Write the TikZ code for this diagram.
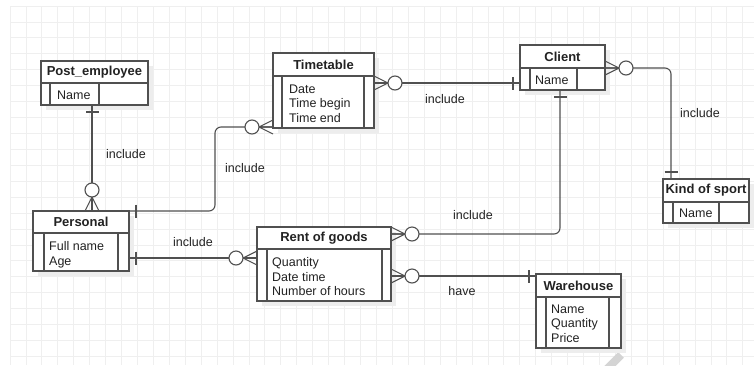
\documentclass[tikz,border=0pt]{standalone}
\usepackage{fontspec}
\setmainfont{Liberation Sans}
\usetikzlibrary{shadows}

\definecolor{lncol}{HTML}{505050}
\definecolor{txtcol}{HTML}{222222}
\definecolor{gridcol}{HTML}{EFEFEF}

\begin{document}
\begin{tikzpicture}[
    x=1pt, y=-1pt,
    every node/.style={font=\fontsize{12.5}{14.5}\selectfont, text=txtcol},
    ln/.style={draw=lncol, line width=1.1pt},
    hd/.style={ln, fill=white, anchor=north west, inner sep=0pt, outer sep=0pt,
               font=\fontsize{13}{15}\selectfont\bfseries,
               drop shadow={shadow xshift=5pt, shadow yshift=-5pt, fill=black!7, opacity=1}},
    bd/.style={hd},
    att/.style={anchor=north west, inner sep=0pt, align=left},
    lbl/.style={inner sep=1pt},
    onemark/.pic={\draw[ln] (7,-6.5) -- (7,6.5);},
    zeromany/.pic={\draw[ln] (0,7) -- (14,0) -- (0,-7) (0,0) -- (14,0);
                   \draw[ln, fill=white] (21,0) circle[radius=7pt];},
  ]
  \fill[white] (0,0) rectangle (754,365);
  \useasboundingbox (0,0) rectangle (754,365);
  \begin{scope}[shift={(10,6)}]
    \draw[gridcol, line width=0.8pt, step=15.93pt] (0,0) grid (744,359);
  \end{scope}
  \draw[black!17, line width=8pt] (621,355) -- (597,379);

  % entities
  \node[hd, minimum width=107, minimum height=22] (peh) at (41,61) {Post\_employee};
  \node[bd, minimum width=107, minimum height=22] (pe) at (peh.south west) {};
  \draw[ln] ([xshift=9pt]pe.north west) -- ([xshift=9pt]pe.south west)
            ([xshift=-49pt]pe.north east) -- ([xshift=-49pt]pe.south east);
  \node[att] (pe-a) at ([xshift=16pt, yshift=-8pt]pe.north west) {Name};

  \node[hd, minimum width=96, minimum height=22] (psh) at (33,211) {Personal};
  \node[bd, minimum width=96, minimum height=38] (ps) at (psh.south west) {};
  \draw[ln] ([xshift=11pt]ps.north west) -- ([xshift=11pt]ps.south west)
            ([xshift=-11pt]ps.north east) -- ([xshift=-11pt]ps.south east);
  \node[att] (ps-a) at ([xshift=16pt, yshift=-8.5pt]ps.north west) {Full name\\Age};

  \node[hd, minimum width=101, minimum height=23] (tth) at (273,53) {Timetable};
  \node[bd, minimum width=101, minimum height=52] (tt) at (tth.south west) {};
  \draw[ln] ([xshift=9pt]tt.north west) -- ([xshift=9pt]tt.south west)
            ([xshift=-10pt]tt.north east) -- ([xshift=-10pt]tt.south east);
  \node[att] (tt-a) at ([xshift=16pt, yshift=-8.5pt]tt.north west) {Date\\Time begin\\Time end};

  \node[hd, minimum width=85, minimum height=23] (clh) at (520,45) {Client};
  \node[bd, minimum width=85, minimum height=22] (cl) at (clh.south west) {};
  \draw[ln] ([xshift=10pt]cl.north west) -- ([xshift=10pt]cl.south west)
            ([xshift=-28pt]cl.north east) -- ([xshift=-28pt]cl.south east);
  \node[att] (cl-a) at ([xshift=15pt, yshift=-8pt]cl.north west) {Name};

  \node[hd, minimum width=134, minimum height=22] (rgh) at (257,227) {Rent of goods};
  \node[bd, minimum width=134, minimum height=52] (rg) at (rgh.south west) {};
  \draw[ln] ([xshift=10pt]rg.north west) -- ([xshift=10pt]rg.south west)
            ([xshift=-9pt]rg.north east) -- ([xshift=-9pt]rg.south east);
  \node[att] (rg-a) at ([xshift=15pt, yshift=-8.5pt]rg.north west) {Quantity\\Date time\\Number of hours};

  \node[hd, minimum width=85, minimum height=23] (whh) at (536,274) {Warehouse};
  \node[bd, minimum width=85, minimum height=51] (wh) at (whh.south west) {};
  \draw[ln] ([xshift=10pt]wh.north west) -- ([xshift=10pt]wh.south west)
            ([xshift=-12pt]wh.north east) -- ([xshift=-12pt]wh.south east);
  \node[att] (wh-a) at ([xshift=15pt, yshift=-7.5pt]wh.north west) {Name\\Quantity\\Price};

  \node[hd, minimum width=86, minimum height=23] (ksh) at (663,179) {Kind of sport};
  \node[bd, minimum width=86, minimum height=21] (ks) at (ksh.south west) {};
  \draw[ln] ([xshift=10pt]ks.north west) -- ([xshift=10pt]ks.south west)
            ([xshift=-30pt]ks.north east) -- ([xshift=-30pt]ks.south east);
  \node[att] (ks-a) at ([xshift=16pt, yshift=-7pt]ks.north west) {Name};

  % relations
  \draw[ln] ([xshift=-2.5pt]pe.south) -- ([xshift=11pt]psh.north);
  \draw[ln, rounded corners=6pt] (psh.north east) -| ([xshift=-58pt, yshift=1pt]tt.south west)
            -- ([yshift=1pt]tt.south west);
  \draw[ln] ([yshift=-7pt]tt.north east) -- ([yshift=-15pt]cl.north west);
  \draw[ln, rounded corners=6pt] (clh.south east) -| ([xshift=8pt]ksh.north west);
  \draw[ln, rounded corners=6pt] ([xshift=40pt]cl.south west) |- ([yshift=-7pt]rgh.north east);
  \draw[ln] ([yshift=-25pt]ps.north east) -- ([yshift=-9pt]rg.north west);
  \draw[ln] ([yshift=-27pt]rg.north east) -- ([yshift=-2pt]whh.north west);

  \pic[rotate=-90] at ([xshift=-2.5pt]pe.south) {onemark};
  \pic[rotate=90] at ([xshift=11pt]psh.north) {zeromany};
  \pic at (psh.north east) {onemark};
  \pic[rotate=180] at ([yshift=1pt]tt.south west) {zeromany};
  \pic at ([yshift=-7pt]tt.north east) {zeromany};
  \pic[rotate=180] at ([yshift=-15pt]cl.north west) {onemark};
  \pic at (clh.south east) {zeromany};
  \pic[rotate=90] at ([xshift=8pt]ksh.north west) {onemark};
  \pic[rotate=-90] at ([xshift=40pt]cl.south west) {onemark};
  \pic at ([yshift=-7pt]rgh.north east) {zeromany};
  \pic at ([yshift=-25pt]ps.north east) {onemark};
  \pic[rotate=180] at ([yshift=-9pt]rg.north west) {zeromany};
  \pic at ([yshift=-27pt]rg.north east) {zeromany};
  \pic[rotate=180] at ([yshift=-2pt]whh.north west) {onemark};

  % labels
  \node[lbl] (l-pe) at (126,154) {include};
  \node[lbl] (l-tt) at (245,168) {include};
  \node[lbl] (l-cl) at (445,99) {include};
  \node[lbl] (l-ks) at (700,113) {include};
  \node[lbl] (l-rg) at (473,215) {include};
  \node[lbl] (l-ps) at (193,242) {include};
  \node[lbl] (l-wh) at (462,291) {have};
\end{tikzpicture}
\end{document}
